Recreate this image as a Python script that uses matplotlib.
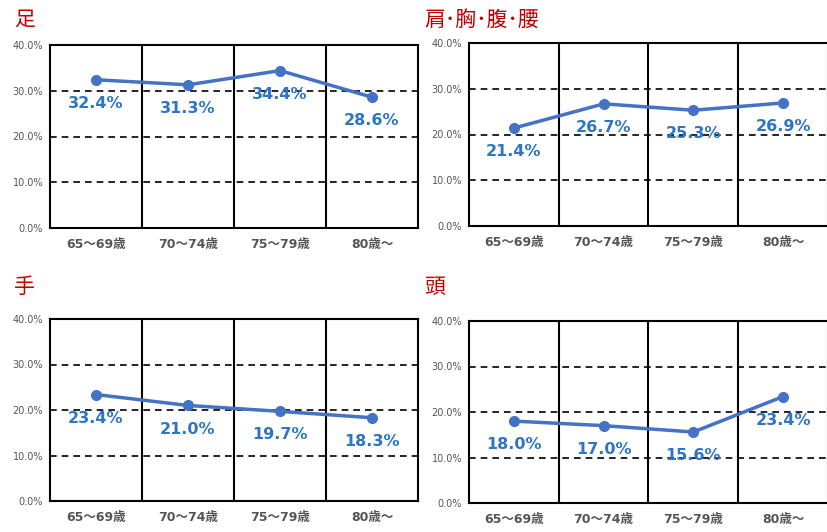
import matplotlib
matplotlib.use("Agg")
import matplotlib.pyplot as plt
from matplotlib.ticker import FuncFormatter

plt.rcParams['font.family'] = ['DejaVu Sans', 'Noto Sans CJK JP']

age_groups = ["65～69歳", "70～74歳", "75～79歳", "80歳～"]
titles = ["足", "肩･胸･腹･腰", "手", "頭"]
foot = [32.4, 31.3, 34.4, 28.6]
torso = [21.4, 26.7, 25.3, 26.9]
hand = [23.4, 21.0, 19.7, 18.3]
head = [18.0, 17.0, 15.6, 23.4]
series = [foot, torso, hand, head]

W, H = 828, 532
fig = plt.figure(figsize=(W / 100, H / 100), dpi=100)

# axes boxes in pixel coordinates: left, top, right, bottom
boxes = [(50, 45, 418, 228), (469, 43, 828, 226),
         (50, 319, 418, 501), (469, 321, 828, 503)]
title_pos = [(14, 20), (424, 20), (14, 287), (424, 287)]

line_color = "#4472C4"
label_color = "#2E75C4"
tick_color = "#555555"

for (l, t, r, b), title, vals, (tx, ty) in zip(boxes, titles, series, title_pos):
    ax = fig.add_axes([l / W, 1 - b / H, (r - l) / W, (b - t) / H])
    x = range(len(vals))
    ax.plot(x, vals, color=line_color, lw=2.5, marker="o", ms=7, zorder=3)
    for xi, v in zip(x, vals):
        ax.annotate(f"{v:.1f}%", (xi, v), xytext=(0, -17), textcoords="offset points",
                    ha="center", va="center", fontsize=11.5, fontweight="bold",
                    color=label_color, zorder=4)
    ax.set_xlim(-0.5, 3.5)
    ax.set_ylim(0, 40)
    ax.set_yticks([0, 10, 20, 30, 40])
    ax.yaxis.set_major_formatter(FuncFormatter(lambda v, p: f"{v:.1f}%"))
    for yv in (10, 20, 30):
        ax.axhline(yv, color="black", lw=1.2, ls=(0, (4, 3)), zorder=1)
    for xv in (0.5, 1.5, 2.5):
        ax.axvline(xv, color="black", lw=1.5, zorder=1)
    ax.set_xticks(list(x))
    ax.set_xticklabels(age_groups, fontsize=9, fontweight="bold", color=tick_color)
    ax.tick_params(axis="y", labelsize=7, labelcolor=tick_color, length=0, pad=5)
    ax.tick_params(axis="x", length=0, pad=7)
    for s in ax.spines.values():
        s.set_color("black")
        s.set_linewidth(1.5)
    fig.text(tx / W, 1 - ty / H, title, fontsize=15, color="#C00000",
             ha="left", va="center", family=['Noto Sans CJK JP', 'DejaVu Sans'])

fig.savefig("out.png", dpi=100, facecolor="white")
